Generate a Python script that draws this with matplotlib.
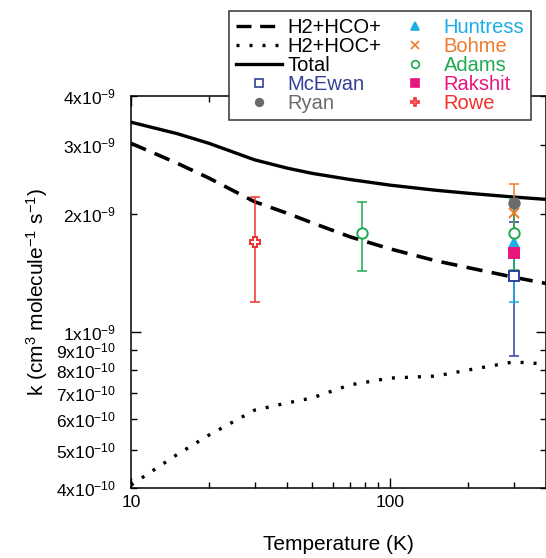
import numpy as np
import matplotlib
matplotlib.use('Agg')
import matplotlib.pyplot as plt
from matplotlib.lines import Line2D

plt.rcParams['font.family'] = ['Liberation Sans', 'DejaVu Sans']
plt.rcParams['mathtext.fontset'] = 'custom'
plt.rcParams['mathtext.rm'] = 'Liberation Sans'
plt.rcParams['mathtext.it'] = 'Liberation Sans:italic'

#%%----------------- model curves
temp = [10, 15, 20, 30, 40, 50, 70, 100, 150, 200, 300, 400]
k_hco = [3.03e-9, 2.70e-9, 2.47e-9, 2.15e-9, 2.01e-9, 1.90e-9, 1.75e-9,
         1.63e-9, 1.52e-9, 1.46e-9, 1.38e-9, 1.33e-9]
k_hoc = [4.07e-10, 4.86e-10, 5.46e-10, 6.32e-10, 6.59e-10, 6.79e-10, 7.33e-10,
         7.63e-10, 7.72e-10, 8.00e-10, 8.39e-10, 8.29e-10]
k_total = [3.43e-9, 3.21e-9, 3.03e-9, 2.75e-9, 2.62e-9, 2.54e-9, 2.45e-9,
           2.37e-9, 2.30e-9, 2.26e-9, 2.21e-9, 2.18e-9]

#%%----------------- measurements: name, T, k, error
meas_names = ['McEwan', 'Ryan', 'Huntress', 'Bohme', 'Adams', 'Adams', 'Rakshit', 'Rowe']
meas_T = [300, 300, 300, 300, 300, 78, 300, 30]
meas_k = [1.39e-9, 2.14e-9, 1.69e-9, 2.01e-9, 1.79e-9, 1.79e-9, 1.59e-9, 1.70e-9]
meas_err = [0.52e-9, 0.0, 0.50e-9, 0.38e-9, 0.35e-9, 0.36e-9, 0.0, 0.51e-9]

colors = {'McEwan': '#33409a', 'Ryan': '#6b6b6b', 'Huntress': '#1aaee6',
          'Bohme': '#f07a2c', 'Adams': '#1faa4f', 'Rakshit': '#e8157c',
          'Rowe': '#f2302e'}
markers = {'McEwan': 's', 'Ryan': 'o', 'Huntress': '^', 'Bohme': 'x',
           'Adams': 'o', 'Rakshit': 's', 'Rowe': 'P'}
filled = {'McEwan': False, 'Ryan': True, 'Huntress': True, 'Bohme': True,
          'Adams': False, 'Rakshit': True, 'Rowe': False}

fig = plt.figure(figsize=(5.46, 5.58), dpi=100)
ax = fig.add_axes([0.2399, 0.1254, 0.7601, 0.7025])

ax.plot(temp, k_hco, color='k', lw=2.6, dashes=(4.5, 2.6))
ax.plot(temp, k_hoc, color='k', lw=2.4, dashes=(0.9, 3.0))
ax.plot(temp, k_total, color='k', lw=2.4)

# error bars first, then the symbols on top
for i, name in enumerate(meas_names):
    if meas_err[i] > 0:
        ax.errorbar(meas_T[i], meas_k[i], yerr=meas_err[i], fmt='none',
                    ecolor=colors[name], elinewidth=1.1, capsize=3.5, capthick=1.1)
for i, name in enumerate(meas_names):
    c = colors[name]
    fc = c if filled[name] else 'white'
    ax.plot(meas_T[i], meas_k[i], linestyle='none', marker=markers[name],
            ms=7.5, mfc=fc, mec=c, mew=1.4, zorder=5)

ax.set_xscale('log')
ax.set_yscale('log')
ax.set_xlim(10, 400)
ax.set_ylim(4e-10, 4e-9)

ax.set_xticks([10, 100])
ax.set_xticklabels(['10', '100'])
ax.set_xticks([20, 30, 40, 50, 60, 70, 80, 90, 200, 300], minor=True)
ax.set_xticklabels([], minor=True)

ax.set_yticks([1e-9], ['1x10$^{-9}$'])
ax.set_yticks([4e-10, 5e-10, 6e-10, 7e-10, 8e-10, 9e-10, 2e-9, 3e-9, 4e-9],
              ['4x10$^{-10}$', '5x10$^{-10}$', '6x10$^{-10}$', '7x10$^{-10}$',
               '8x10$^{-10}$', '9x10$^{-10}$', '2x10$^{-9}$', '3x10$^{-9}$',
               '4x10$^{-9}$'], minor=True)

ax.tick_params(which='both', direction='in', top=True, right=True,
               labelsize=12.5, width=1)
ax.tick_params(axis='y', which='both', pad=11)
ax.tick_params(axis='x', which='both', pad=5)
ax.tick_params(which='major', length=7)
ax.tick_params(which='minor', length=4)
for s in ax.spines.values():
    s.set_linewidth(1.1)

ax.set_xlabel('Temperature (K)', fontsize=15, labelpad=18)
ax.set_ylabel('k (cm$^3$ molecule$^{-1}$ s$^{-1}$)', fontsize=15, labelpad=4)

# legend
handles = [
    Line2D([0], [0], color='k', lw=2.4, dashes=(4.5, 2.6), label='H2+HCO+'),
    Line2D([0], [0], color='k', lw=2.4, dashes=(0.9, 3.0), label='H2+HOC+'),
    Line2D([0], [0], color='k', lw=2.4, label='Total'),
]
for name in ['McEwan', 'Ryan', 'Huntress', 'Bohme', 'Adams', 'Rakshit', 'Rowe']:
    c = colors[name]
    fc = c if filled[name] else 'white'
    handles.append(Line2D([0], [0], linestyle='none', marker=markers[name],
                          ms=5.5, mfc=fc, mec=c, mew=1.2, label=name))

leg = ax.legend(handles=handles, ncol=2, loc='upper left',
                bbox_to_anchor=(0.236, 1.217), fontsize=14.5, frameon=True,
                fancybox=False, framealpha=1, edgecolor='#333333',
                handlelength=2.3, handletextpad=0.25, columnspacing=0.55,
                labelspacing=0.0, borderpad=0.35, borderaxespad=0)
leg.get_frame().set_linewidth(1.1)
leg.set_zorder(10)
for txt, h in zip(leg.get_texts(), handles):
    name = h.get_label()
    if name in colors:
        txt.set_color(colors[name])

fig.savefig('out.png', dpi=100)
